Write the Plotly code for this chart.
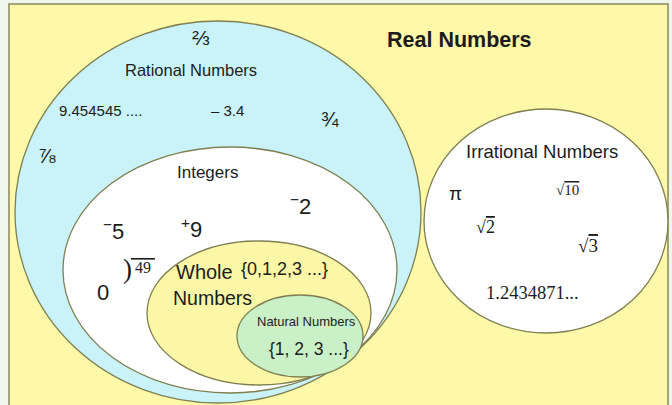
import plotly.graph_objects as go

# ---- Sets (ellipses) ----
set_names = ["Rational Numbers", "Integers", "Whole Numbers", "Natural Numbers", "Irrational Numbers"]
set_cx = [218, 230, 259, 300, 546]
set_cy = [212, 270, 313, 336, 221]
set_rx = [203, 167, 112, 63, 122]
set_ry = [191, 123, 72, 41, 112]
set_fill = ["#c9f3f8", "#ffffff", "#fcf7a6", "#c9f0c6", "#ffffff"]

# ---- Set titles ----
title_text = ["<b>Real Numbers</b>", "Rational Numbers", "Integers", "Irrational Numbers", "Natural Numbers"]
title_x = [459, 191, 207, 542, 306]
title_y = [40, 70, 172, 151, 321]
title_size = [21.5, 16.5, 17, 18.5, 13]

# ---- Members (sans) ----
sans_text = ["⅔", "9.454545 ....", "– 3.4", "¾", "⅞",
             "<sup>−</sup>2", "<sup>−</sup>5", "<sup>+</sup>9", "0",
             "Whole", "Numbers", "{0,1,2,3 ...}", "{1, 2, 3 ...}", "π"]
sans_x = [201, 100, 227, 330, 47, 300, 113, 191, 103, 204, 212, 284, 309, 455]
sans_y = [37, 110, 110, 118, 155, 205, 230, 228, 292, 272, 298, 269, 349, 193]
sans_size = [21, 15, 15, 21, 21, 22, 22, 22, 22, 20, 19.5, 18, 17.5, 19]

# ---- Members (serif) ----
serif_text = [")",
              "<span style='text-decoration:overline'> 49 </span>",
              "√<span style='text-decoration:overline'>10</span>",
              "√<span style='text-decoration:overline'>2</span>",
              "√<span style='text-decoration:overline'>3</span>",
              "1.2434871..."]
serif_x = [127, 143, 567, 485, 588, 532]
serif_y = [269, 267, 190, 227, 245, 293]
serif_size = [27, 16, 15, 18, 19, 18.5]

fig = go.Figure()

shapes = []
# panel
shapes.append(dict(type="rect", xref="x", yref="y", x0=9, x1=668, y0=4, y1=412,
                   fillcolor="#fdf9a8", line=dict(color="#a8a27a", width=2), layer="below"))
for cx, cy, rx, ry, fc in zip(set_cx, set_cy, set_rx, set_ry, set_fill):
    shapes.append(dict(type="circle", xref="x", yref="y",
                       x0=cx - rx, x1=cx + rx, y0=cy - ry, y1=cy + ry,
                       fillcolor=fc, line=dict(color="#7f7f52", width=1.3), layer="below"))

annotations = []
for t, x, y, s in zip(title_text, title_x, title_y, title_size):
    annotations.append(dict(x=x, y=y, xref="x", yref="y", text=t, showarrow=False,
                            font=dict(family="Liberation Sans, Arial", size=s, color="#1c1c1c")))
for t, x, y, s in zip(sans_text, sans_x, sans_y, sans_size):
    annotations.append(dict(x=x, y=y, xref="x", yref="y", text=t, showarrow=False,
                            font=dict(family="Liberation Sans, Arial", size=s, color="#1c1c1c")))
for t, x, y, s in zip(serif_text, serif_x, serif_y, serif_size):
    annotations.append(dict(x=x, y=y, xref="x", yref="y", text=t, showarrow=False,
                            font=dict(family="Liberation Serif, Times New Roman", size=s, color="#1c1c1c")))

fig.add_trace(go.Scatter(x=[0, 672], y=[0, 405], mode="markers",
                         marker=dict(opacity=0), hoverinfo="skip", showlegend=False))

fig.update_layout(
    width=672, height=405,
    margin=dict(l=0, r=0, t=0, b=0),
    paper_bgcolor="#eff7ec", plot_bgcolor="#eff7ec",
    shapes=shapes, annotations=annotations,
    xaxis=dict(range=[0, 672], visible=False, fixedrange=True),
    yaxis=dict(range=[405, 0], visible=False, fixedrange=True),
    showlegend=False,
)

fig.write_html("out.html", config={"displayModeBar": False},
               post_script="document.body.style.margin='0';document.body.style.overflow='hidden';")
